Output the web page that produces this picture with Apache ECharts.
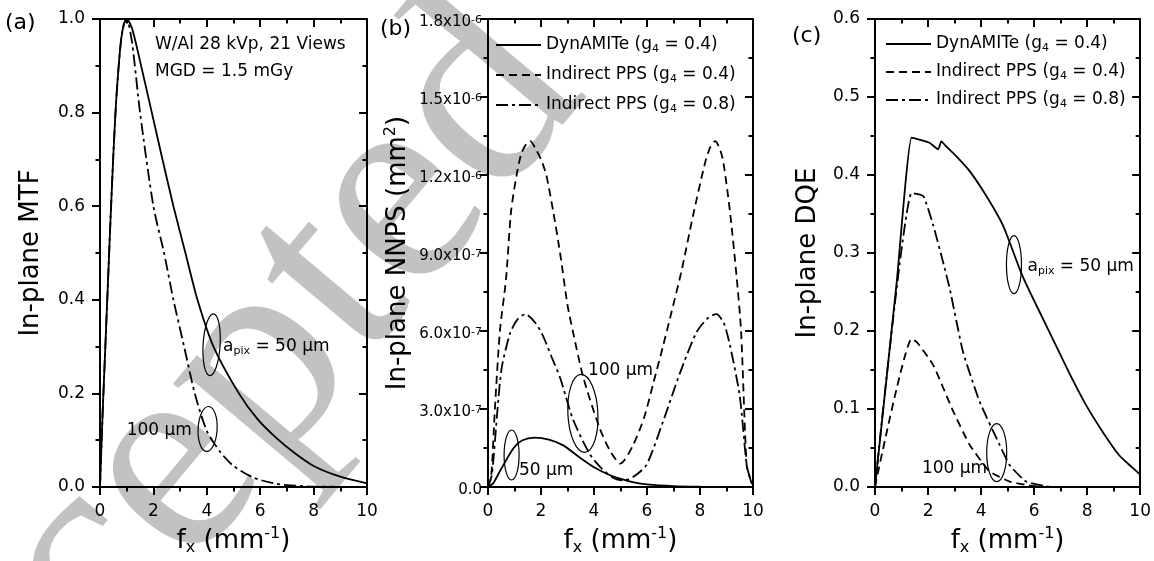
<!DOCTYPE html>
<html><head><meta charset="utf-8">
<script src="https://cdn.jsdelivr.net/npm/echarts@6/dist/echarts.min.js"></script>
<style>html,body{margin:0;padding:0;background:#fff}#c{width:1154px;height:561px}</style>
</head><body><div id="c"></div>
<script>
// ---------------- data ----------------
const xTickLabels = ['0','2','4','6','8','10'];
const mtfTickLabels = ['0.0','0.2','0.4','0.6','0.8','1.0'];
const dqeTickLabels = ['0.0','0.1','0.2','0.3','0.4','0.5','0.6'];
const nnpsTickLabels = ['0.0','3.0x10^-7','6.0x10^-7','9.0x10^-7','1.2x10^-6','1.5x10^-6','1.8x10^-6'];
const legendNames = ['DynAMITe (g4 = 0.4)','Indirect PPS (g4 = 0.4)','Indirect PPS (g4 = 0.8)'];

// (a) In-plane MTF
const mtfFreq50 = [0,0.1,0.2,0.3,0.4,0.5,0.6,0.7,0.8,0.9,1.0,1.2,1.5,1.9,2.3,2.75,3.2,3.65,4.25,5.2,5.9,6.6,7.3,8.0,9.0,10];
const mtf50     = [0,0.16,0.3,0.44,0.58,0.71,0.82,0.9,0.96,0.99,1.0,0.98,0.91,0.81,0.71,0.6,0.5,0.4,0.3,0.2,0.145,0.105,0.072,0.045,0.022,0.008];
const mtfFreq100 = [0,0.1,0.2,0.3,0.4,0.5,0.6,0.7,0.8,0.9,1.0,1.2,1.5,2.0,2.4,2.75,3.15,3.55,4.0,4.5,5.0,5.75,6.5,7.0,8.0,10];
const mtf100     = [0,0.16,0.3,0.44,0.58,0.71,0.82,0.9,0.96,0.99,1.0,0.95,0.8,0.6,0.5,0.4,0.3,0.2,0.12,0.075,0.045,0.02,0.008,0.004,0.001,0];

// (b) In-plane NNPS
const nnpsFreqDyn = [0,0.2,0.45,0.96,1.3,1.77,2.3,2.84,3.4,3.97,4.5,4.98,5.5,6.0,7.0,8.0,9.0,10];
const nnpsDyn     = [0,0.15e-7,0.61e-7,1.49e-7,1.8e-7,1.9e-7,1.82e-7,1.6e-7,1.18e-7,0.78e-7,0.5e-7,0.32e-7,0.18e-7,0.1e-7,0.035e-7,0.012e-7,0.003e-7,0];
const nnpsFreqP04 = [0,0.12,0.26,0.45,0.68,0.87,1.08,1.25,1.45,1.6,1.8,2.0,2.2,2.46,2.72,3.0,3.2,3.6,4.2,4.6,5.0,5.47,5.9,6.24,6.6,6.87,7.3,7.75,8.2,8.4,8.57,8.75,8.88,9.13,9.38,9.55,9.76,9.9,10];
const nnpsP04     = [0,0.4e-7,3.0e-7,6.0e-7,8.0e-7,10.6e-7,12.0e-7,12.8e-7,13.2e-7,13.3e-7,13.0e-7,12.6e-7,12.0e-7,10.6e-7,9.0e-7,7.0e-7,6.0e-7,4.2e-7,2.3e-7,1.4e-7,0.9e-7,1.6e-7,2.7e-7,4.0e-7,5.4e-7,6.5e-7,8.3e-7,10.5e-7,12.5e-7,13.1e-7,13.3e-7,13.0e-7,12.5e-7,10.6e-7,8.1e-7,6.0e-7,0.85e-7,0.3e-7,0];
const nnpsFreqP08 = [0,0.15,0.36,0.52,0.83,1.08,1.4,1.8,2.08,2.4,2.72,3.21,3.85,4.3,4.73,5.1,5.5,5.98,6.6,7.25,7.87,8.3,8.62,8.9,9.13,9.5,9.76,9.9,10];
const nnpsP08     = [0,0.5e-7,3.0e-7,4.6e-7,5.9e-7,6.4e-7,6.65e-7,6.3e-7,5.8e-7,5.0e-7,4.2e-7,2.6e-7,1.25e-7,0.7e-7,0.35e-7,0.25e-7,0.4e-7,0.85e-7,2.5e-7,4.4e-7,5.95e-7,6.5e-7,6.65e-7,6.3e-7,5.45e-7,3.5e-7,0.85e-7,0.3e-7,0];

// (c) In-plane DQE
const dqeFreqDyn = [0,0.82,1.38,1.7,2.07,2.38,2.5,2.7,3.07,3.57,4.2,4.83,5.45,5.7,6.2,6.7,7.3,7.96,8.6,9.2,9.6,10];
const dqeDyn     = [0,0.263,0.448,0.445,0.441,0.433,0.443,0.436,0.424,0.405,0.373,0.335,0.28,0.26,0.225,0.19,0.148,0.105,0.07,0.041,0.028,0.016];
const dqeFreqP04 = [0,1.38,1.6,2.2,2.95,3.57,4.32,5.08,5.8,6.3];
const dqeP04     = [0,0.19,0.185,0.156,0.097,0.054,0.02,0.007,0.002,0];
const dqeFreqP08 = [0,1.38,1.82,2.2,2.57,2.82,3.32,3.95,4.58,5.08,5.7,6.6];
const dqeP08     = [0,0.377,0.373,0.335,0.288,0.254,0.173,0.109,0.0626,0.028,0.007,0];

// annotations (data coordinates of each panel)
const ellipses = [
  {g:0, at:[4.18,0.304], rx:8.5, ry:31, rot:-0.06},
  {g:0, at:[4.03,0.124], rx:9.5, ry:22.5, rot:-0.05},
  {g:1, at:[3.58,2.83e-7], rx:15, ry:39, rot:0.05},
  {g:1, at:[0.89,1.23e-7], rx:7.5, ry:25, rot:0},
  {g:2, at:[5.24,0.285], rx:7.5, ry:29, rot:0},
  {g:2, at:[4.59,0.044], rx:10, ry:29, rot:0}
];
const notes = [
  {g:0, at:[2.06,0.945], text:'W/Al 28 kVp, 21 Views'},
  {g:0, at:[2.06,0.887], text:'MGD = 1.5 mGy'},
  {g:0, at:[4.61,0.300], text:'a{s|pix} = 50 μm'},
  {g:0, at:[1.00,0.121], text:'100 μm'},
  {g:1, at:[3.77,4.48e-7], text:'100 μm'},
  {g:1, at:[1.17,0.65e-7], text:'50 μm'},
  {g:2, at:[5.75,0.282], text:'a{s|pix} = 50 μm'},
  {g:2, at:[1.77,0.024], text:'100 μm'}
];

// ---------------- chart ----------------
const FONT = 'DejaVu Sans';
const zip = (xs, ys) => xs.map((x, i) => [x, ys[i]]);
const SOLID = 'solid', DASH = [8,5], DASHDOT = [12,4,3,4];

const nameRich = {
  i:{fontFamily:FONT, fontSize:26, lineHeight:30, color:'#000'},
  s:{fontFamily:FONT, fontSize:16, lineHeight:10, verticalAlign:'bottom', color:'#000'},
  p:{fontFamily:FONT, fontSize:16, lineHeight:10, verticalAlign:'top', color:'#000'}
};
const xTitle = '{i|f}{s|x}{i| (mm}{p|-1}{i|)}';

function xAx(g, pos) {
  const bottom = pos === 'bottom';
  return {
    type:'value', gridIndex:g, position:pos, min:0, max:10, interval:2,
    name: bottom ? xTitle : '', nameLocation:'middle', nameGap:39, nameMoveOverlap:false,
    nameTextStyle:{fontFamily:FONT, fontSize:26, color:'#000', rich:nameRich},
    axisLine:{show:true, onZero:false, lineStyle:{color:'#000', width:2}},
    axisTick:{show:true, inside:!bottom, length:8, lineStyle:{color:'#000', width:2}},
    minorTick:{show:true, splitNumber:2, length:4.5, lineStyle:{color:'#000', width:2}},
    axisLabel:{show:bottom, margin:16, color:'#000', fontFamily:FONT, fontSize:17,
      formatter:(v, i) => xTickLabels[i]},
    splitLine:{show:false}, minorSplitLine:{show:false}
  };
}
function yAx(g, pos, max, interval, labels, name, gap, lab) {
  const left = pos === 'left';
  return {
    type:'value', gridIndex:g, position:pos, min:0, max:max, interval:interval,
    name: left ? name : '', nameLocation:'middle', nameGap:gap, nameMoveOverlap:false,
    nameTextStyle:{fontFamily:FONT, fontSize:26, color:'#000', rich:nameRich},
    axisLine:{show:true, onZero:false, lineStyle:{color:'#000', width:2}},
    axisTick:{show:true, inside:!left, length:8, lineStyle:{color:'#000', width:2}},
    minorTick:{show:true, splitNumber:2, length:4.5, lineStyle:{color:'#000', width:2}},
    axisLabel:Object.assign({show:left, margin:15, color:'#000', fontFamily:FONT, fontSize:17,
      formatter:(v, i) => labels[i]}, lab || {}),
    splitLine:{show:false}, minorSplitLine:{show:false}
  };
}
const nnpsLab = {
  margin:6, padding:[7,0,0,0],
  formatter:(v, i) => {
    const s = nnpsTickLabels[i];
    if (s.indexOf('^') < 0) return '{m|' + s + '}';
    const parts = s.split('^');
    return '{m|' + parts[0] + '}{e|' + parts[1] + '}';
  },
  rich:{
    m:{fontFamily:FONT, fontSize:15, lineHeight:16, color:'#000'},
    e:{fontFamily:FONT, fontSize:11, lineHeight:8, verticalAlign:'top', color:'#000'}
  }
};

function line(name, xi, data, type) {
  return {name, type:'line', xAxisIndex:xi, yAxisIndex:xi, data, symbol:'none', showSymbol:false,
    smooth:0.25, lineStyle:{color:'#000', width:1.8, type:type}, itemStyle:{color:'#000'},
    emphasis:{disabled:true}, animation:false, z:3};
}
function legend(left, top, gap) {
  return {
    show:true, data:legendNames, orient:'vertical', left, top, padding:0, itemGap:gap, itemWidth:45, itemHeight:20,
    selectedMode:false, itemStyle:{opacity:0, color:'rgba(0,0,0,0)', borderWidth:0},
    formatter:n => n.replace('g4', 'g{s|4}'),
    textStyle:{fontFamily:FONT, fontSize:17, lineHeight:20, color:'#000',
      rich:{s:{fontFamily:FONT, fontSize:11, lineHeight:8, verticalAlign:'bottom', color:'#000'}}}
  };
}

const option = {
  animation:false,
  backgroundColor:'#fff',
  textStyle:{fontFamily:FONT},
  grid:[
    {left:100, top:19, width:267, height:470},
    {left:488, top:19, width:265, height:470},
    {left:875, top:19, width:266, height:470}
  ],
  xAxis:[xAx(0,'bottom'), xAx(0,'top'), xAx(1,'bottom'), xAx(1,'top'), xAx(2,'bottom'), xAx(2,'top')],
  yAxis:[
    yAx(0,'left',1,0.2,mtfTickLabels,'In-plane MTF',56),
    yAx(0,'right',1,0.2,mtfTickLabels,'',0),
    yAx(1,'left',1.8e-6,3e-7,nnpsTickLabels,'{i|In-plane NNPS (mm}{p|2}{i|)}',75,nnpsLab),
    yAx(1,'right',1.8e-6,3e-7,nnpsTickLabels,'',0),
    yAx(2,'left',0.6,0.1,dqeTickLabels,'In-plane DQE',54),
    yAx(2,'right',0.6,0.1,dqeTickLabels,'',0)
  ],
  legend:[legend(495, 35, 10), legend(885, 34, 8)],
  series:[
    line('50 μm', 0, zip(mtfFreq50, mtf50), SOLID),
    line('100 μm', 0, zip(mtfFreq100, mtf100), DASHDOT),
    line(legendNames[0], 2, zip(nnpsFreqDyn, nnpsDyn), SOLID),
    line(legendNames[1], 2, zip(nnpsFreqP04, nnpsP04), DASH),
    line(legendNames[2], 2, zip(nnpsFreqP08, nnpsP08), DASHDOT),
    Object.assign(line(legendNames[0], 4, zip(dqeFreqDyn, dqeDyn), SOLID), {smooth:0.15}),
    Object.assign(line(legendNames[1], 4, zip(dqeFreqP04, dqeP04), DASH), {smooth:0.15}),
    Object.assign(line(legendNames[2], 4, zip(dqeFreqP08, dqeP08), DASHDOT), {smooth:0.15})
  ]
};

const chart = echarts.init(document.getElementById('c'));
chart.setOption(option);

const toPx = (g, p) => chart.convertToPixel({xAxisIndex:2*g, yAxisIndex:2*g}, p);
const graphics = [];
// watermark
graphics.push({type:'text', x:-168, y:878, rotation:50*Math.PI/180, z:-10, silent:true,
  style:{text:'Accepted', fontFamily:'Liberation Serif', fontSize:288, fill:'#c2c2c2',
    align:'left', verticalAlign:'middle'}});
// panel labels
[['(a)',5,23],['(b)',380,29],['(c)',792,36]].forEach(l => graphics.push({type:'text', x:l[1], y:l[2], z:50,
  style:{text:l[0], fontFamily:FONT, fontSize:22, fill:'#000', align:'left', verticalAlign:'middle'}}));
ellipses.forEach(e => {
  const c = toPx(e.g, e.at);
  graphics.push({type:'ellipse', x:c[0], y:c[1], rotation:e.rot, z:50, silent:true,
    shape:{cx:0, cy:0, rx:e.rx, ry:e.ry}, style:{fill:'none', stroke:'#000', lineWidth:1.2}});
});
notes.forEach(n => {
  const c = toPx(n.g, n.at);
  graphics.push({type:'text', x:c[0], y:c[1], z:50, silent:true,
    style:{text:n.text, fontFamily:FONT, fontSize:17, lineHeight:20, fill:'#000', align:'left', verticalAlign:'middle',
      rich:{s:{fontFamily:FONT, fontSize:11, lineHeight:8, verticalAlign:'bottom', fill:'#000'}}}});
});
chart.setOption({graphic:graphics});
</script></body></html>
